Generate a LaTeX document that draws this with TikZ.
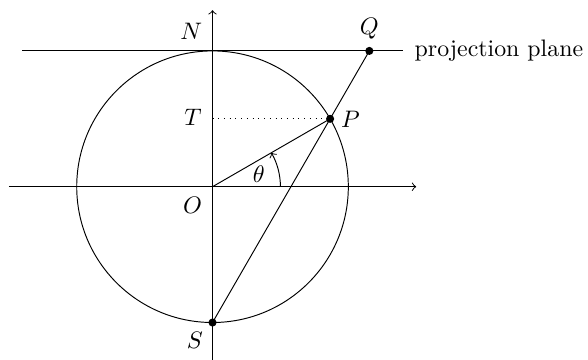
\documentclass[tikz,border=0pt]{standalone}
\begin{document}
\begin{tikzpicture}[
  dotnode/.style={circle,fill=black,inner sep=0pt,minimum size=3.4pt},
  lbl/.style={inner sep=0pt},
  axis/.style={->},
]
\useasboundingbox (-3.13,-2.552) rectangle (5.53,2.75);
\coordinate (O) at (0,0);
\coordinate (N) at (0,2);
\coordinate (S) at (0,-2);
\coordinate (P) at (30:2);
\coordinate (Q) at (2.3094,2);
\coordinate (T) at (0,1);
\coordinate (xl) at (-3,0);
\coordinate (xr) at (3,0);
\coordinate (yb) at (0,-2.6);
\coordinate (yt) at (0,2.6);
\coordinate (pl) at (-2.8,2);
\coordinate (pr) at (2.8,2);
\coordinate (a0) at (1,0);
% axes
\draw[axis] (xl) -- (xr);
\draw[axis] (yb) -- (yt);
% circle
\draw (O) circle (2);
% projection plane
\draw (pl) -- (pr);
\node[anchor=west,inner sep=0pt] (plane) at (2.97,2) {projection plane};
% lines
\draw (O) -- (P);
\draw (S) -- (Q);
\draw[dotted] (T) -- (P);
% angle
\draw[->] (a0) arc (0:30:1);
\node[lbl] (theta) at (0.68,0.177) {$\theta$};
% points
\node[dotnode] (Pd) at (P) {};
\node[dotnode] (Qd) at (Q) {};
\node[dotnode] (Sd) at (S) {};
% labels
\node[lbl] (Nl) at (-0.312,2.283) {$N$};
\node[lbl] (Ql) at (2.308,2.333) {$Q$};
\node[lbl] (Pl) at (2.03,0.997) {$P$};
\node[lbl] (Tl) at (-0.287,1.016) {$T$};
\node[lbl] (Ol) at (-0.295,-0.281) {$O$};
\node[lbl] (Sl) at (-0.258,-2.265) {$S$};
\end{tikzpicture}
\end{document}
